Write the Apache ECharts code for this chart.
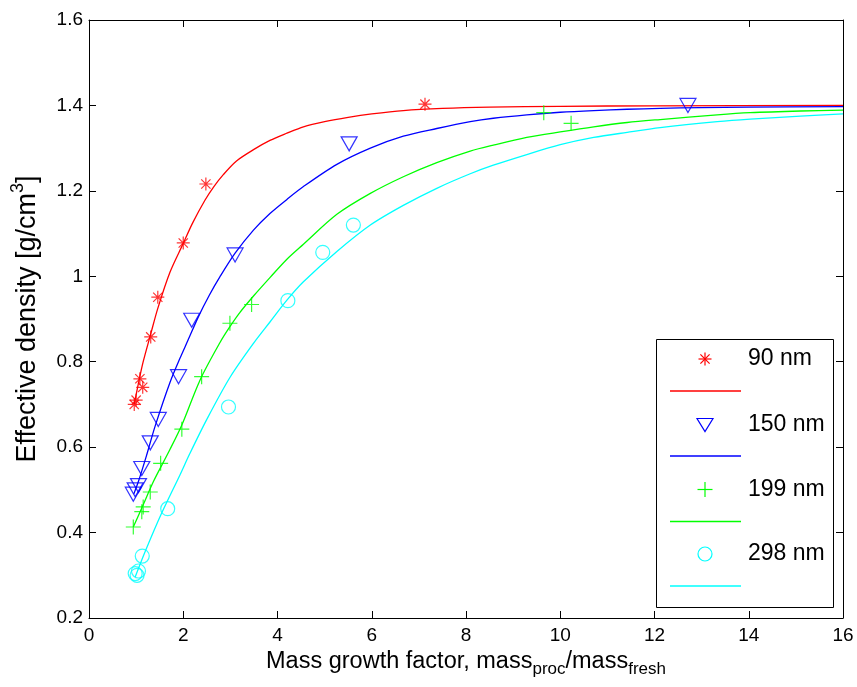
<!DOCTYPE html>
<html>
<head>
<meta charset="utf-8">
<script src="https://cdn.jsdelivr.net/npm/echarts@6/dist/echarts.min.js"></script>
<style>
html,body{margin:0;padding:0;background:#fff;}
#chart{width:857px;height:687px;}
</style>
</head>
<body>
<div id="chart"></div>
<script>
// ---- data ----
const xTicks = [0, 2, 4, 6, 8, 10, 12, 14, 16];
const yTicks = [0.2, 0.4, 0.6, 0.8, 1.0, 1.2, 1.4, 1.6];
const seriesNames = ['90 nm', '150 nm', '199 nm', '298 nm'];

// measured points
const pts90 = [[0.96,0.70],[1.0,0.71],[1.08,0.76],[1.14,0.74],[1.31,0.858],[1.46,0.951],[2.0,1.078],[2.48,1.216],[7.13,1.403]];
const pts150 = [[0.94,0.49],[0.98,0.50],[1.05,0.51],[1.12,0.55],[1.3,0.61],[1.47,0.665],[1.9,0.765],[2.18,0.897],[3.1,1.05],[5.52,1.31],[12.71,1.40]];
const pts199 = [[0.94,0.413],[1.12,0.449],[1.15,0.46],[1.3,0.495],[1.52,0.562],[1.97,0.642],[2.39,0.765],[2.99,0.89],[3.45,0.934],[9.65,1.383],[10.23,1.358]];
const pts298 = [[0.98,0.304],[1.02,0.30],[1.05,0.31],[1.13,0.345],[1.67,0.456],[2.96,0.694],[4.22,0.943],[4.96,1.056],[5.61,1.12]];

// fitted curves
const fit90X = [0.96,1.05,1.15,1.31,1.46,1.72,2.0,2.2,2.46,2.65,2.85,3.13,3.5,3.84,4.2,4.55,5.0,5.5,6.0,6.67,7.5,8.5,10,12,16];
const fit90Y = [0.70,0.75,0.80,0.865,0.925,1.01,1.077,1.125,1.178,1.21,1.238,1.27,1.297,1.318,1.335,1.35,1.362,1.372,1.38,1.388,1.393,1.396,1.398,1.399,1.40];
const fit150X = [0.95,1.05,1.22,1.4,1.72,1.93,2.1,2.32,2.55,2.78,3.1,3.49,3.84,4.2,4.55,5.26,5.97,6.67,7.38,8.09,8.58,9.29,10.0,10.71,11.42,12.12,12.97,14,16];
const fit150Y = [0.49,0.52,0.58,0.648,0.752,0.808,0.85,0.905,0.955,0.999,1.054,1.108,1.147,1.18,1.21,1.262,1.30,1.328,1.346,1.362,1.37,1.378,1.384,1.388,1.391,1.393,1.395,1.396,1.397];
const fit199X = [0.94,1.15,1.37,1.72,1.97,2.36,2.78,2.99,3.2,3.5,3.84,4.2,4.55,5.26,5.97,6.67,7.38,8.09,8.58,9.29,10.0,10.71,11.42,12.12,13.33,14.03,15.1,16];
const fit199Y = [0.413,0.465,0.52,0.595,0.652,0.758,0.845,0.882,0.915,0.955,0.997,1.04,1.075,1.145,1.194,1.233,1.266,1.293,1.307,1.325,1.338,1.35,1.36,1.367,1.378,1.383,1.387,1.389];
const fit298X = [0.98,1.19,1.54,1.93,2.14,2.5,2.99,3.49,3.84,4.2,4.55,5.26,5.97,6.67,7.38,8.09,8.58,9.29,10.0,10.71,11.42,12.12,13.33,14.03,15.1,16];
const fit298Y = [0.296,0.355,0.445,0.535,0.585,0.665,0.763,0.843,0.893,0.944,0.987,1.058,1.12,1.166,1.206,1.24,1.26,1.285,1.308,1.325,1.337,1.348,1.362,1.368,1.375,1.38];

// ---- styling ----
const colors = ['#ff0000', '#0000ff', '#00ff00', '#00ffff'];
const FONT = 'Liberation Sans, Arial, sans-serif';
const asterisk = 'path://M0,-7L0,7M-7,0L7,0M-5,-5L5,5M-5,5L5,-5';
const plus = 'path://M0,-7L0,7M-7,0L7,0';
const zip = (xs, ys) => xs.map((x, i) => [x, ys[i]]);

const markerDefs = [
  {pts: pts90, symbol: asterisk, size: 13, rotate: 0},
  {pts: pts150, symbol: 'triangle', size: [16, 14], rotate: 180},
  {pts: pts199, symbol: plus, size: 15, rotate: 0},
  {pts: pts298, symbol: 'circle', size: 14, rotate: 0}
];
const fits = [zip(fit90X, fit90Y), zip(fit150X, fit150Y), zip(fit199X, fit199Y), zip(fit298X, fit298Y)];

const series = [];
seriesNames.forEach((name, i) => {
  series.push({
    name: name, type: 'scatter', data: markerDefs[i].pts,
    symbol: markerDefs[i].symbol, symbolSize: markerDefs[i].size, symbolRotate: markerDefs[i].rotate,
    itemStyle: {color: 'none', borderColor: colors[i], borderWidth: 1.2},
    emphasis: {disabled: true}, z: 3
  });
  series.push({
    name: name + ' fit', type: 'line', data: fits[i], symbol: 'none', smooth: 0.3,
    lineStyle: {color: colors[i], width: 1.3},
    emphasis: {disabled: true}, z: 2
  });
});

// ---- legend drawn as graphic (MATLAB style: marker row, then line row) ----
const LG = {x: 656, y: 339, w: 177, h: 268, markerX: 705, lineX1: 670, lineX2: 741, textX: 748,
            rows: [359, 391, 424.5, 456, 489.5, 521.5, 554, 586]};
function legendMarker(i, cx, cy) {
  const st = {stroke: colors[i], lineWidth: 1.2, fill: 'none'};
  if (i === 0) {
    return [[0,-6.5,0,6.5],[-6.5,0,6.5,0],[-4.6,-4.6,4.6,4.6],[-4.6,4.6,4.6,-4.6]].map(s => ({
      type: 'line', shape: {x1: cx+s[0], y1: cy+s[1], x2: cx+s[2], y2: cy+s[3]}, style: st}));
  }
  if (i === 1) {
    return [{type: 'polygon', shape: {points: [[cx-8, cy-6], [cx+8, cy-6], [cx, cy+7]]}, style: st}];
  }
  if (i === 2) {
    return [[0,-7.5,0,7.5],[-7.5,0,7.5,0]].map(s => ({
      type: 'line', shape: {x1: cx+s[0], y1: cy+s[1], x2: cx+s[2], y2: cy+s[3]}, style: st}));
  }
  return [{type: 'circle', shape: {cx: cx, cy: cy, r: 7}, style: st}];
}
const legendElems = [{
  type: 'rect', shape: {x: LG.x + 0.5, y: LG.y + 0.5, width: LG.w, height: LG.h},
  style: {fill: '#fff', stroke: '#000', lineWidth: 1}
}];
seriesNames.forEach((name, i) => {
  const my = LG.rows[2 * i], ly = LG.rows[2 * i + 1];
  legendElems.push(...legendMarker(i, LG.markerX, my));
  legendElems.push({type: 'text', x: LG.textX, y: my,
    style: {text: name, fill: '#000', font: '23px Liberation Sans, Arial, sans-serif', textVerticalAlign: 'middle', textAlign: 'left'}});
  legendElems.push({type: 'line', shape: {x1: LG.lineX1, y1: ly, x2: LG.lineX2, y2: ly},
    style: {stroke: colors[i], lineWidth: 1.5}});
});

const axisCommon = {
  axisLine: {show: true, onZero: false, lineStyle: {color: '#000', width: 1}},
  axisTick: {show: true, inside: true, length: 7, lineStyle: {color: '#000'}},
  splitLine: {show: false}
};

const chart = echarts.init(document.getElementById('chart'), null, {renderer: 'canvas'});
chart.setOption({
  animation: false,
  backgroundColor: '#ffffff',
  textStyle: {fontFamily: FONT},
  grid: {left: 89, right: 14, top: 20, bottom: 69, containLabel: false},
  xAxis: [
    Object.assign({}, axisCommon, {
      type: 'value', position: 'bottom', min: xTicks[0], max: xTicks[xTicks.length - 1], interval: xTicks[1] - xTicks[0],
      axisLabel: {color: '#000', fontSize: 19, fontFamily: FONT, margin: 8},
      name: '{m|Mass growth factor, mass}{s|proc}{m|/mass}{s|fresh}',
      nameLocation: 'middle', nameGap: 29,
      nameTextStyle: {
        color: '#000', fontFamily: FONT,
        rich: {
          m: {fontSize: 23.5, fontFamily: FONT, color: '#000', verticalAlign: 'top'},
          s: {fontSize: 17, fontFamily: FONT, color: '#000', verticalAlign: 'top', padding: [11, 0, 0, 0]}
        }
      }
    }),
    Object.assign({}, axisCommon, {
      type: 'value', position: 'top', min: xTicks[0], max: xTicks[xTicks.length - 1], interval: xTicks[1] - xTicks[0],
      axisLabel: {show: false}
    })
  ],
  yAxis: [
    Object.assign({}, axisCommon, {
      type: 'value', position: 'left', min: yTicks[0], max: yTicks[yTicks.length - 1], interval: 0.2,
      axisLabel: {color: '#000', fontSize: 19, fontFamily: FONT, margin: 6},
      name: '{m|Effective density [g/cm}{p|3}{m|]}',
      nameLocation: 'middle', nameGap: 48,
      nameTextStyle: {
        color: '#000', fontFamily: FONT,
        rich: {
          m: {fontSize: 27, fontFamily: FONT, color: '#000', verticalAlign: 'bottom', lineHeight: 32},
          p: {fontSize: 18, fontFamily: FONT, color: '#000', verticalAlign: 'top', lineHeight: 18}
        }
      }
    }),
    Object.assign({}, axisCommon, {
      type: 'value', position: 'right', min: yTicks[0], max: yTicks[yTicks.length - 1], interval: 0.2,
      axisLabel: {show: false}
    })
  ],
  graphic: legendElems,
  series: series
});
</script>
</body>
</html>
